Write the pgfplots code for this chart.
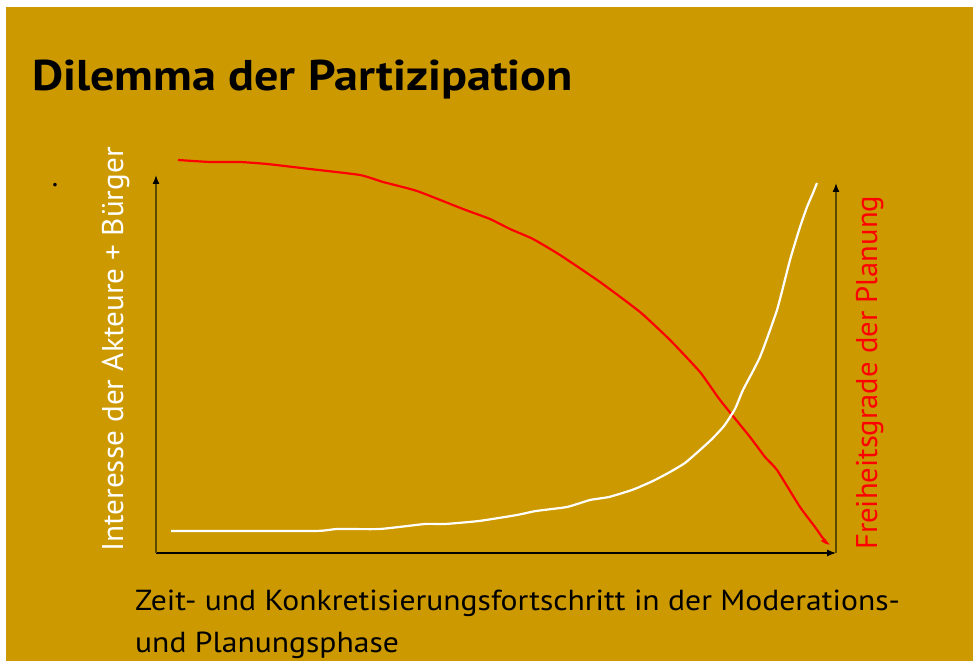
\documentclass[border=0pt]{standalone}
\usepackage{pgfplots}
\pgfplotsset{compat=1.18}
\usepackage{fontspec}
\setmainfont{PT Sans}
\usetikzlibrary{arrows.meta}
\definecolor{gold}{HTML}{CC9900}
\definecolor{axbrown}{HTML}{5C4A00}
\begin{document}
\begin{tikzpicture}
\path[use as bounding box] (0,0) rectangle (973bp,661bp);
\fill[white] (0,0) rectangle (973bp,661bp);
\fill[gold] (6bp,0) rectangle (973bp,654bp);
\begin{axis}[
  at={(156bp,108bp)}, anchor=south west,
  scale only axis, width=680bp, height=378bp,
  xmin=156, xmax=836, ymin=108, ymax=486,
  axis x line=bottom, axis y line=left,
  xtick=\empty, ytick=\empty,
  x axis line style={black, line width=1.2bp, -{Latex[length=9bp,width=7bp]}},
  y axis line style={axbrown, line width=1.4bp, -{Latex[length=9bp,width=7bp,color=black]}},
  clip=false,
]
\addplot[red, line width=2.2bp, smooth, tension=0.3] coordinates {
(178,501)(210,499)(240,499)(267,497)(310,492)(360,486)(383,479)(417,470)(463,452)(490,442)(510,432)(533,422)(560,406)(600,379)(640,349)(670,321)(700,289)(720,261)(750,224)(765,204)(777,191)(800,154)(815,134)(822,124)(827,118)(823,120)(826,121)
};
\addplot[white, line width=2.2bp, smooth, tension=0.3] coordinates {
(171,130)(314,130)(337,132)(380,132)(425,137)(445,137)(479,140)(517,146)(536,150)(567,154)(590,161)(609,164)(632,171)(644,176)(655,181)(670,189)(685,198)(700,211)(712,222)(724,235)(735,252)(743,271)(760,304)(777,351)(790,401)(800,434)(807,454)(813,468)(817,478)
};
\draw[axbrown, line width=1.4bp, -{Latex[length=9bp,width=7bp,color=black]}] (axis cs:836,108) -- (axis cs:836,478);
\end{axis}
\node[anchor=base west, inner sep=0pt, font=\fontsize{43bp}{50bp}\selectfont\bfseries] at (32bp,570bp) {\scalebox{1.12}[1]{Dilemma der Partizipation}};
\node[anchor=base west, inner sep=0pt, rotate=90, text=white, font=\fontsize{30bp}{36bp}\selectfont] at (123bp,109bp) {\scalebox{1.04}[1]{Interesse der Akteure + Bürger}};
\node[anchor=base west, inner sep=0pt, rotate=90, text=red, font=\fontsize{30bp}{36bp}\selectfont] at (877bp,111bp) {\scalebox{1.02}[1]{Freiheitsgrade der Planung}};
\node[anchor=base west, inner sep=0pt, font=\fontsize{29bp}{36bp}\selectfont] at (135bp,50bp) {\scalebox{1.09}[1]{Zeit- und Konkretisierungsfortschritt in der Moderations-}};
\node[anchor=base west, inner sep=0pt, font=\fontsize{29bp}{36bp}\selectfont] at (135bp,9bp) {\scalebox{1.09}[1]{und Planungsphase}};
\node[anchor=base, inner sep=0pt, font=\fontsize{30bp}{36bp}\selectfont] at (55bp,474bp) {.};
\end{tikzpicture}
\end{document}
